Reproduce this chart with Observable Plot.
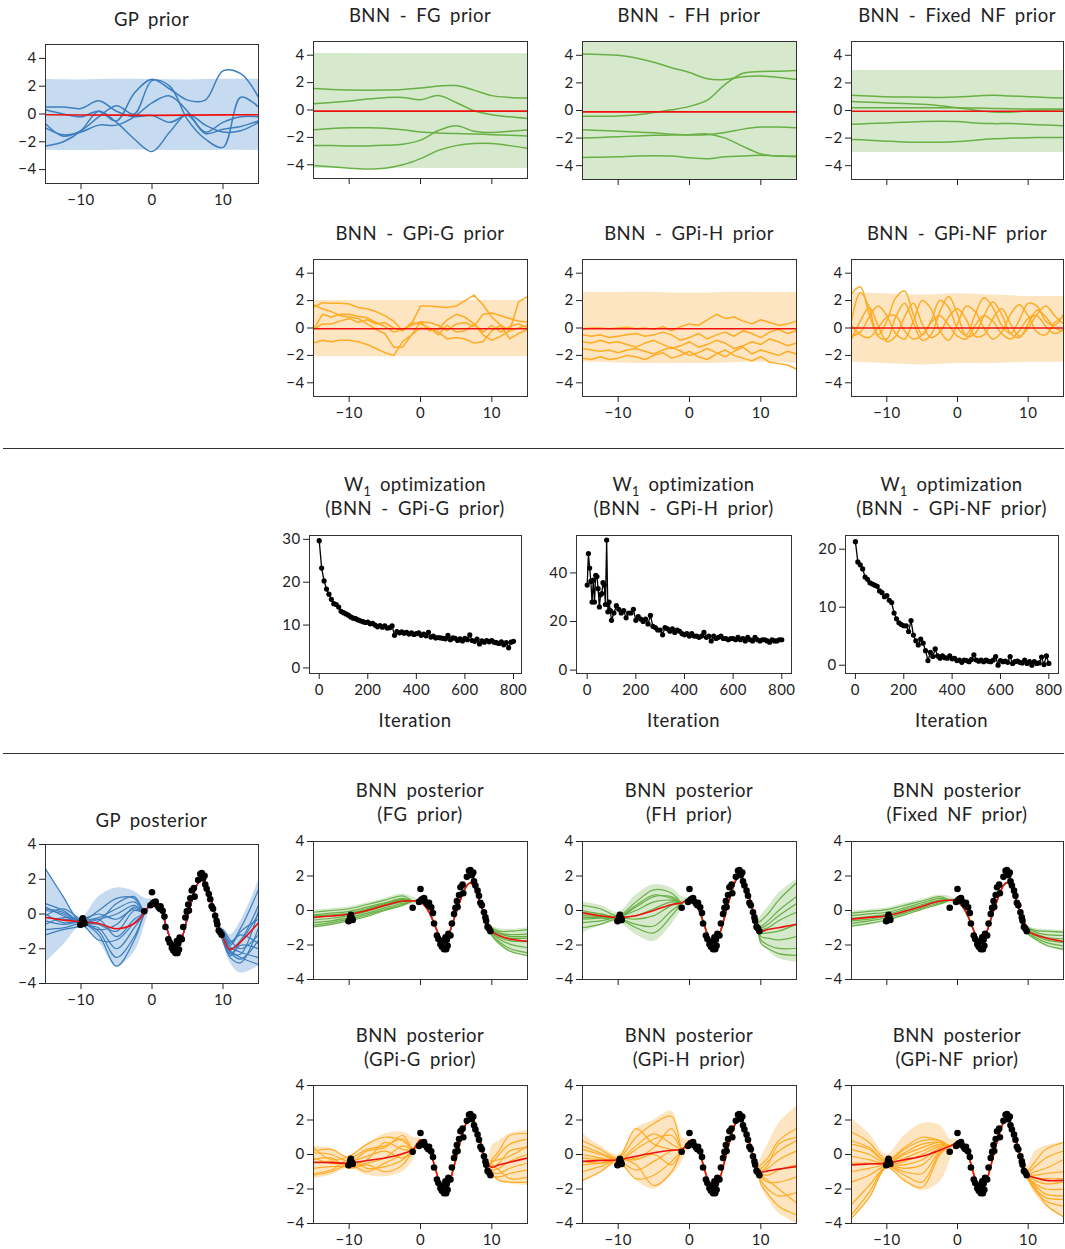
<!DOCTYPE html>
<html><head><meta charset="utf-8">
<script src="https://cdn.jsdelivr.net/npm/d3@7"></script>
<script src="https://cdn.jsdelivr.net/npm/@observablehq/plot@0.6"></script>
<style>
body{margin:0;background:#fff;}
#root{position:relative;width:1065px;height:1249px;background:#fff;overflow:hidden;font-family:Lato,'DejaVu Sans',sans-serif;color:#222;}
.t{position:absolute;width:340px;text-align:center;font-size:18.5px;letter-spacing:0.45px;word-spacing:4px;white-space:nowrap;}
.t .sb{font-size:12.5px;position:relative;top:5px;line-height:0;letter-spacing:0;}
.sep{position:absolute;left:3px;width:1061px;height:0;border-top:1px solid #333;}
</style></head><body><div id="root"></div><script>
// ---------------- DATA ----------------
const xPrior = [-15,-12.5,-10,-7.5,-5,-2.5,0,2.5,5,7.5,10,12.5,15];
const xJag = [-15,-13.75,-12.5,-11.25,-10,-8.75,-7.5,-6.25,-5,-3.75,-2.5,-1.25,0,1.25,2.5,3.75,5,6.25,7.5,8.75,10,11.25,12.5,13.75,15];
const xBand = [-15,-10,-5,0,5,10,15];
const xTicks = [-10,0,10];
const yTicksPrior = [-4,-2,0,2,4];

// GP prior
const gpPriorSamples = [
  [0.5,0.5,0.4,0.95,0.2,-0.2,-0.1,-0.6,-0.1,-1.4,-1.1,-0.9,-0.5],
  [-0.7,-1.6,-1.2,-0.2,0.6,0.0,2.4,2.0,-0.4,-1.8,-2.4,1.2,0.5],
  [-2.3,-2.0,-1.2,0.2,-0.6,-1.8,-2.7,-1.3,0.0,-0.8,-1.3,-1.2,-0.6],
  [0.3,0.0,-0.2,0.2,-0.5,1.5,2.5,1.8,1.0,1.0,3.1,2.9,1.2],
  [-1.0,-1.5,-1.3,-0.8,-0.8,-0.2,0.8,1.3,0.2,-1.3,-0.6,-0.2,-0.2]
];
const gpPriorUp = [2.48,2.45,2.5,2.48,2.45,2.5,2.5];
const gpPriorLo = [-2.6,-2.62,-2.6,-2.6,-2.62,-2.6,-2.62];
const gpPriorMean = [-0.05,-0.07,-0.08,-0.1,-0.08,-0.06,-0.05];

// BNN - FG prior
const fgPriorSamples = [
  [1.57,1.5,1.46,1.45,1.46,1.5,1.6,1.75,1.78,1.45,1.05,0.92,0.88],
  [0.45,0.55,0.65,0.8,0.9,0.92,0.75,1.05,0.55,-0.05,-0.35,-0.5,-0.62],
  [-1.45,-1.35,-1.3,-1.3,-1.33,-1.45,-1.6,-1.68,-1.72,-1.75,-1.8,-1.85,-1.9],
  [-2.6,-2.6,-2.62,-2.62,-2.58,-2.5,-2.2,-1.5,-1.15,-1.55,-1.65,-1.55,-1.45],
  [-4.05,-4.15,-4.25,-4.3,-4.25,-4.0,-3.55,-2.95,-2.6,-2.45,-2.45,-2.6,-2.8]
];
const fgPriorUp = [4.12,4.12,4.1,4.1,4.1,4.1,4.1];
const fgPriorLo = [-4.27,-4.27,-4.27,-4.27,-4.27,-4.27,-4.27];
const fgPriorMean = [-0.08,-0.08,-0.08,-0.08,-0.08,-0.08,-0.08];

// BNN - FH prior
const fhPriorSamples = [
  [4.1,4.05,4.0,3.8,3.5,3.1,2.75,2.3,2.25,2.45,2.5,2.4,2.25],
  [-0.42,-0.42,-0.4,-0.32,-0.15,0.05,0.3,0.75,1.9,2.7,2.82,2.85,2.9],
  [-1.4,-1.45,-1.5,-1.55,-1.62,-1.72,-1.78,-1.75,-1.6,-1.35,-1.2,-1.2,-1.25],
  [-2.0,-1.95,-1.9,-1.85,-1.8,-1.78,-1.75,-1.7,-2.0,-2.6,-3.15,-3.3,-3.3],
  [-3.4,-3.38,-3.35,-3.3,-3.28,-3.3,-3.42,-3.5,-3.35,-3.3,-3.25,-3.3,-3.35]
];
const fhPriorUp = [5.5,5.5,5.5,5.5,5.5,5.5,5.5];
const fhPriorLo = [-5.5,-5.5,-5.5,-5.5,-5.5,-5.5,-5.5];
const fhPriorMean = [-0.1,-0.1,-0.1,-0.1,-0.1,-0.1,-0.1];

// BNN - Fixed NF prior
const fnfPriorSamples = [
  [1.1,1.05,1.0,0.98,0.96,0.95,0.98,1.05,1.1,1.05,1.0,0.95,0.9],
  [0.65,0.6,0.55,0.5,0.45,0.35,0.2,0.02,-0.1,-0.12,-0.02,0.03,0.05],
  [0.2,0.2,0.2,0.2,0.2,0.2,0.2,0.18,0.15,0.12,0.1,0.1,0.1],
  [-1.0,-0.95,-0.9,-0.85,-0.8,-0.78,-0.8,-0.9,-0.95,-0.95,-1.0,-1.05,-1.1],
  [-2.1,-2.15,-2.22,-2.28,-2.3,-2.3,-2.25,-2.15,-2.05,-2.0,-1.97,-1.95,-1.95]
];
const fnfPriorUp = [2.9,2.9,2.9,2.9,2.9,2.9,2.9];
const fnfPriorLo = [-3.05,-3.05,-3.05,-3.05,-3.05,-3.05,-3.05];
const fnfPriorMean = [-0.05,-0.05,-0.05,-0.05,-0.05,-0.05,-0.05];

// BNN - GPi-G prior
const gpigPriorSamples = [
  [1.5,1.85,1.8,1.8,1.75,1.5,1.4,1.2,0.9,0.5,-0.2,0.3,1.6,1.6,1.55,1.5,1.6,2.0,2.4,1.7,0.8,0.2,-0.2,1.9,2.3],
  [-0.1,1.0,0.8,1.0,1.0,0.85,0.75,0.4,0.1,-0.3,-0.1,0.2,0.45,-0.2,-0.1,0.6,1.0,0.8,0.3,-0.5,-0.9,-0.6,-0.2,0.0,0.2],
  [1.7,1.4,1.2,0.9,0.8,0.7,0.3,-0.1,-0.4,-1.4,-1.4,-0.5,0.45,0.4,0.2,-0.2,0.3,0.4,0.1,1.0,1.1,0.9,0.7,0.5,0.45],
  [-0.1,0.3,0.3,0.5,0.7,0.4,0.6,0.3,0.4,0.0,-0.2,0.4,0.3,0.0,-0.5,0.2,-0.3,-0.2,0.3,-0.3,0.2,-0.3,0.1,0.3,0.0],
  [-1.1,-0.9,-1.0,-0.9,-0.9,-1.0,-1.2,-1.5,-1.8,-2.0,-1.0,-0.5,0.0,-0.1,-0.3,-0.8,-0.7,-0.8,-1.1,-1.0,-0.2,0.2,-0.8,-0.4,-0.1]
];
const gpigPriorUp = [2.0,2.0,2.0,2.0,2.0,2.0,2.0];
const gpigPriorLo = [-2.1,-2.1,-2.1,-2.1,-2.1,-2.1,-2.1];
const gpigPriorMean = [-0.05,-0.05,-0.05,-0.05,-0.05,-0.05,-0.05];

// BNN - GPi-H prior
const gpihPriorSamples = [
  [-0.05,0.0,0.0,-0.05,0.0,0.05,-0.05,0.0,-0.1,0.1,-0.2,0.1,0.3,0.2,0.6,1.0,0.7,0.8,0.5,0.3,0.6,0.4,0.2,0.3,0.5],
  [-0.5,-0.6,-0.5,-0.7,-0.6,-0.5,-0.4,-0.6,-0.5,-0.3,-0.5,-0.9,-0.7,-0.4,-0.8,-0.5,-0.3,-0.6,-0.2,-0.4,-0.7,-0.3,-0.1,-0.4,-0.2],
  [-1.0,-1.1,-0.9,-1.1,-1.0,-1.2,-1.4,-1.1,-0.9,-1.2,-1.5,-1.3,-1.0,-1.4,-1.2,-0.9,-1.1,-1.5,-1.3,-1.0,-1.2,-0.8,-1.0,-1.3,-1.1],
  [-1.5,-1.6,-1.7,-1.6,-1.8,-1.6,-1.5,-1.7,-1.9,-1.6,-1.4,-1.7,-2.0,-1.8,-1.5,-1.8,-2.1,-1.7,-1.4,-1.9,-1.6,-1.8,-2.0,-1.7,-1.9],
  [-2.2,-2.3,-2.1,-2.3,-2.2,-2.0,-2.1,-2.3,-2.0,-1.8,-2.2,-2.0,-1.7,-2.1,-2.3,-1.9,-1.6,-2.0,-2.2,-2.4,-2.1,-2.5,-2.6,-2.7,-3.0]
];
const gpihPriorUp = [2.6,2.6,2.6,2.55,2.6,2.6,2.6];
const gpihPriorLo = [-2.5,-2.55,-2.6,-2.6,-2.55,-2.5,-2.6];
const gpihPriorMean = [-0.05,-0.05,-0.05,-0.05,-0.05,-0.05,-0.05];

// BNN - GPi-NF prior
const gpinfPriorSamples = [
  [2.5,3.0,1.0,-0.5,0.5,2.2,2.7,1.0,-0.5,0.5,2.0,1.5,0.0,-0.5,1.0,2.2,1.5,0.2,-0.4,0.6,1.8,1.6,0.5,0.2,1.0],
  [0.5,2.6,1.5,-0.6,-0.8,0.8,1.8,0.4,-0.9,-0.5,1.2,2.3,1.0,-0.6,-0.4,0.9,1.9,1.0,-0.4,-0.7,0.3,1.3,0.8,0.0,-0.2],
  [-0.6,-0.3,0.8,1.6,0.9,-0.4,-0.8,0.5,2.0,1.4,-0.2,-0.9,0.3,1.6,1.2,0.0,-0.8,-0.3,1.0,1.7,0.9,-0.3,-0.5,0.4,0.8],
  [-0.8,0.5,1.5,0.2,-1.0,-0.6,0.8,1.8,0.3,-0.7,-0.3,0.8,1.4,0.6,-0.6,-0.5,0.7,1.4,0.3,-0.6,0.0,1.0,1.6,0.9,0.3],
  [0.2,-0.5,-0.7,0.0,0.8,0.9,-0.2,-0.8,-0.5,0.4,0.9,0.2,-0.6,-0.8,0.2,0.9,0.5,-0.4,-0.8,-0.2,0.7,0.9,0.1,-0.4,-0.1]
];
const gpinfPriorUp = [2.6,2.5,2.4,2.5,2.4,2.3,2.3];
const gpinfPriorLo = [-2.5,-2.6,-2.7,-2.6,-2.6,-2.5,-2.5];
const gpinfPriorMean = [0.0,0.0,0.0,0.0,0.0,0.0,0.0];

// W1 optimization
const w1Ticks = [0,200,400,600,800];
const w1GValues = [29.7,23.3,20.3,18.4,17.2,16.0,15.0,14.8,14.2,13.2,
 12.9,12.6,12.3,11.9,11.6,11.5,11.2,11.0,10.8,10.6,
 10.7,10.3,10.4,10.0,9.6,9.9,9.5,9.8,9.3,9.4,
 9.8,7.6,8.5,8.2,8.4,8.1,8.3,7.9,8.2,7.8,
 8.0,8.2,7.6,7.9,7.5,8.3,7.2,7.4,7.0,7.1,
 7.0,6.9,6.8,7.6,6.6,7.0,6.9,6.4,6.8,6.3,
 6.9,6.6,7.7,6.4,6.2,6.7,5.6,6.3,6.0,6.4,
 6.1,6.4,6.0,5.9,5.7,6.1,5.4,5.9,4.7,6.0,
 6.2];
const w1HEarlyIter = [0,5,10,15,20,25,30,35,40,45,50,55,60,65,70,75,80,85,90,95];
const w1HEarly = [35,48,42,36.5,28,37,28,39,38.5,33.5,26,31,31.5,36,35,27,53.5,24,28,24.5];
const w1HValues = [20.5,23.5,26.5,25,23.5,24.5,21.5,23.5,23.5,25,
 20.5,22,21,20,21,19,22.5,18,17.5,16.5,
 16.5,14.5,17.5,17,16,17,15.5,16.5,16,15,
 14.5,15,14,15,14,14,13.5,14,15.5,13.5,
 14,12,14,13,13.5,14,13,13,12.5,13,
 13,12.5,13.5,12.5,13,12,13.5,12.5,12,13.5,
 12.5,12,12.5,12.5,12,11.5,12.5,12,12,12.5,
 12.5];
const w1NFValues = [21.3,17.8,17.3,16.6,15.2,14.8,14.2,14.0,13.8,13.6,
 12.8,12.5,11.8,12.0,11.2,10.8,9.0,8.0,7.3,7.0,
 6.8,6.8,5.8,7.7,5.2,4.2,3.5,4.5,3.8,2.5,
 0.8,2.2,1.5,2.8,1.6,1.2,1.6,1.3,1.2,1.6,
 1.1,1.2,0.8,0.9,0.5,0.9,0.8,0.6,1.0,1.8,
 0.9,0.7,0.9,0.6,0.9,0.7,0.6,0.9,1.5,0.0,
 0.8,0.6,0.7,0.5,1.5,0.3,0.6,0.7,0.5,0.4,
 0.9,0.3,0.6,0.0,0.6,0.3,0.4,1.4,0.1,1.6,
 0.3];

// Observations (shared by all posterior panels)
const obsX = [-10.1,-10.0,-9.85,-9.75,-9.6,-9.5,-1.1,-0.2,0.0,0.1,0.25,0.5,0.6,0.9,1.1,1.2,1.5,1.75,1.9,2.3,2.5,2.8,3.0,3.1,3.3,3.5,3.6,3.7,3.8,3.9,4.2,4.4,4.7,4.9,5.1,5.2,5.4,5.6,5.9,6.0,6.5,6.8,7.0,7.2,7.4,7.5,7.7,8.0,8.2,8.4,8.6,8.9,9.1,9.2,9.4,9.6,9.8];
const obsY = [-0.62,-0.6,-0.36,-0.25,-0.45,-0.55,0.16,0.5,1.25,0.6,0.66,0.72,0.55,0.4,0.3,0.45,0.18,-0.15,-0.75,-1.45,-1.65,-1.95,-2.1,-1.8,-2.25,-1.55,-2.25,-1.7,-2.05,-1.35,-1.45,-0.75,-0.2,0.15,0.55,0.2,0.9,1.35,1.5,1.0,1.95,2.3,2.35,2.05,2.2,1.7,1.45,1.15,0.85,0.45,0.3,-0.1,-0.4,-0.6,-0.95,-1.05,-1.2];

// Posterior knots
const xPostL = [-15,-12.5,-10,-7.5,-5,-2.5];
const xPostM = [-1,-0.5,0,0.5,1,1.5,2,2.5,3,3.5,4,4.5,5,5.5,6,6.5,7,7.5,8,8.5,9,9.5];
const xPostR = [10,11,12.5,15];
const xBandL = [-15,-12.5,-10,-7.5,-5,-2.5,-1,0];
const xBandR = [9.5,10,11,12.5,15];
const yTicksPost = [-4,-2,0,2,4];

// GP posterior: samples are [6 left values | 4 right values]
const gpPostSamples = [
  [2.6,1.0,-0.5,-0.3,0.0,0.5, -1.0,-1.7,-0.8,1.4],
  [0.6,0.2,-0.4,0.2,0.9,0.9, -1.2,-2.0,-1.5,0.5],
  [0.4,-0.1,-0.5,-0.6,-1.0,0.2, -1.3,-2.2,-2.3,0.2],
  [0.2,0.0,-0.6,-0.8,-2.0,-0.8, -1.1,-1.8,-1.0,-0.3],
  [0.0,-0.5,-0.4,-0.2,0.3,0.7, -1.5,-2.5,-2.8,-0.8],
  [-0.2,-0.3,-0.45,-1.0,-2.5,-1.3, -0.9,-1.5,-2.0,-1.2],
  [-0.4,-0.6,-0.5,-1.2,-3.0,-1.5, -1.4,-2.2,-2.6,-1.5],
  [-0.6,-0.2,-0.3,0.0,-0.3,0.3, -1.6,-2.4,-1.8,-2.0],
  [-0.9,-0.8,-0.6,-1.5,-1.5,-0.5, -1.2,-1.9,-2.2,-2.5],
  [-1.2,-0.9,-0.7,-0.4,0.6,1.0, -1.3,-2.1,-2.5,-2.9],
  [-0.1,0.3,-0.35,-0.9,-0.6,0.4, -1.0,-1.6,-1.2,-1.7],
  [0.3,0.1,-0.5,-0.3,-1.3,-0.3, -1.5,-2.3,-1.6,0.0]
];
const gpPostMid = [0.1,0.45,0.77,0.75,0.5,0.0,-0.7,-1.35,-1.8,-1.95,-1.65,-1.0,-0.2,0.6,1.3,1.8,2.0,1.85,1.3,0.6,-0.2,-0.85];
const gpPostMeanL = [-0.2,-0.35,-0.45,-0.55,-0.85,-0.55];
const gpPostMeanR = [-1.35,-2.05,-1.6,-0.5];
const gpPostBandLUp = [2.6,1.0,-0.2,1.0,1.5,1.3,0.9,0.85];
const gpPostBandLLo = [-2.8,-1.8,-0.75,-1.6,-3.0,-2.2,-0.6,0.65];
const gpPostBandRUp = [-0.75,-0.8,-1.2,-0.4,1.9];
const gpPostBandRLo = [-0.95,-1.6,-2.8,-3.4,-3.0];

// BNN posterior (FG prior)
const fgPostSamples = [
  [-0.1,0.0,0.1,0.35,0.6,0.85, -1.0,-1.2,-1.2,-1.1],
  [-0.25,-0.15,-0.05,0.2,0.45,0.7, -1.1,-1.3,-1.4,-1.35],
  [-0.4,-0.3,-0.2,0.05,0.35,0.6, -1.2,-1.45,-1.6,-1.6],
  [-0.55,-0.45,-0.3,-0.05,0.25,0.5, -1.25,-1.55,-1.75,-1.8],
  [-0.7,-0.6,-0.4,-0.15,0.15,0.42, -1.3,-1.65,-1.95,-2.15],
  [-0.85,-0.7,-0.5,-0.25,0.05,0.35, -1.4,-1.8,-2.2,-2.45],
  [-0.95,-0.8,-0.6,-0.35,0.0,0.3, -1.45,-1.9,-2.35,-2.6],
  [-0.3,-0.25,-0.15,0.1,0.4,0.65, -1.15,-1.35,-1.5,-1.5]
];
const fgPostMid = [0.55,0.57,0.5,0.32,0.05,-0.35,-0.85,-1.35,-1.68,-1.72,-1.35,-0.75,-0.1,0.5,1.05,1.45,1.6,1.4,0.9,0.3,-0.3,-0.8];
const fgPostMeanL = [-0.4,-0.32,-0.22,0.0,0.3,0.55];
const fgPostMeanR = [-1.2,-1.45,-1.65,-1.78];
const fgPostBandLUp = [0.0,0.1,0.2,0.45,0.7,0.95,0.75,0.6];
const fgPostBandLLo = [-1.0,-0.85,-0.65,-0.4,-0.05,0.25,0.35,0.4];
const fgPostBandRUp = [-0.65,-0.9,-1.05,-1.1,-1.0];
const fgPostBandRLo = [-0.95,-1.5,-2.0,-2.4,-2.7];

// BNN posterior (FH prior)
const fhPostSamples = [
  [0.3,0.1,-0.3,0.5,1.2,1.0, -0.6,-0.2,0.6,1.6],
  [-0.1,-0.2,-0.4,0.2,0.8,0.8, -0.9,-0.6,0.0,0.8],
  [-0.4,-0.4,-0.4,-0.3,0.1,0.5, -1.1,-1.0,-0.6,-0.1],
  [-0.7,-0.6,-0.45,-0.8,-0.9,0.0, -1.3,-1.3,-1.2,-0.8],
  [0.0,-0.2,-0.35,0.0,0.5,0.6, -1.5,-1.6,-1.7,-1.5],
  [-1.0,-0.8,-0.5,-1.0,-1.3,-0.3, -1.7,-2.0,-2.2,-2.2],
  [-0.3,-0.35,-0.4,-0.5,-0.3,0.3, -1.9,-2.2,-2.5,-2.6],
  [-0.5,-0.45,-0.4,0.3,0.9,0.7, -1.0,-0.8,-0.3,0.4]
];
const fhPostMid = [0.45,0.6,0.65,0.55,0.3,-0.15,-0.75,-1.35,-1.8,-1.9,-1.6,-1.0,-0.25,0.5,1.2,1.75,1.95,1.8,1.3,0.6,-0.15,-0.75];
const fhPostMeanL = [-0.15,-0.3,-0.4,-0.3,0.0,0.35];
const fhPostMeanR = [-1.2,-1.1,-1.0,-0.8];
const fhPostBandLUp = [0.5,0.3,-0.1,0.9,1.5,1.3,0.8,0.75];
const fhPostBandLLo = [-1.3,-0.9,-0.7,-1.4,-1.8,-0.8,0.1,0.55];
const fhPostBandRUp = [-0.6,-0.3,0.2,1.0,1.8];
const fhPostBandRLo = [-0.9,-1.8,-2.3,-2.8,-3.0];

// BNN posterior (Fixed NF prior)
const fnfPostSamples = [
  [-0.15,-0.05,0.05,0.3,0.55,0.8, -1.0,-1.15,-1.2,-1.25],
  [-0.3,-0.2,-0.1,0.15,0.45,0.7, -1.05,-1.25,-1.4,-1.45],
  [-0.45,-0.35,-0.22,0.05,0.35,0.6, -1.15,-1.35,-1.55,-1.65],
  [-0.6,-0.5,-0.32,-0.05,0.25,0.52, -1.2,-1.45,-1.7,-1.85],
  [-0.75,-0.6,-0.42,-0.15,0.15,0.45, -1.3,-1.55,-1.85,-2.05],
  [-0.9,-0.75,-0.55,-0.25,0.08,0.38, -1.35,-1.65,-2.0,-2.25]
];
const fnfPostMid = [0.6,0.6,0.52,0.33,0.05,-0.35,-0.85,-1.35,-1.7,-1.75,-1.4,-0.8,-0.15,0.45,1.0,1.45,1.62,1.45,0.95,0.35,-0.25,-0.75];
const fnfPostMeanL = [-0.5,-0.4,-0.3,-0.05,0.25,0.55];
const fnfPostMeanR = [-1.2,-1.4,-1.6,-1.8];
const fnfPostBandLUp = [-0.05,0.05,0.15,0.4,0.65,0.9,0.8,0.6];
const fnfPostBandLLo = [-1.0,-0.85,-0.65,-0.35,0.0,0.3,0.4,0.45];
const fnfPostBandRUp = [-0.6,-0.9,-1.05,-1.1,-1.15];
const fnfPostBandRLo = [-0.9,-1.45,-1.75,-2.1,-2.35];

// BNN posterior (GPi-G prior)
const gpigPostSamples = [
  [0.4,-0.3,-0.1,0.6,1.0,0.8, -0.3,0.2,1.1,1.2],
  [-0.2,-0.5,-0.5,0.2,0.4,1.1, -0.5,0.0,0.6,0.9],
  [-0.5,-0.4,-0.6,-0.3,0.7,0.3, -0.7,-0.5,0.2,0.4],
  [-0.8,-0.7,-0.7,-0.5,-0.2,0.5, -0.9,-0.8,-0.4,0.0],
  [-1.1,-0.9,-0.3,-0.8,-0.7,-0.3, -1.0,-1.1,-0.8,-0.5],
  [0.1,0.0,-0.4,-0.1,0.2,-0.2, -1.2,-1.3,-1.1,-0.9],
  [-0.3,-0.2,-0.8,-0.6,-1.0,-0.6, -0.6,-0.9,-1.4,-1.3],
  [-1.2,-1.0,-0.6,-1.0,-0.5,0.0, -1.1,-1.5,-1.6,-1.6],
  [0.2,0.3,-0.2,0.3,0.5,0.9, -0.4,-0.3,-0.1,0.5]
];
const gpigPostMid = [0.3,0.6,0.85,0.75,0.45,0.0,-0.7,-1.4,-1.85,-2.0,-1.7,-1.0,-0.2,0.6,1.35,1.9,2.2,1.95,1.35,0.6,-0.15,-0.6];
const gpigPostMeanL = [-0.45,-0.47,-0.5,-0.35,-0.2,0.05];
const gpigPostMeanR = [-0.75,-0.6,-0.45,-0.2];
const gpigPostBandLUp = [0.5,0.35,-0.1,0.6,1.2,1.3,1.0,0.95];
const gpigPostBandLLo = [-1.4,-1.2,-0.8,-1.2,-1.3,-1.0,-0.3,0.75];
const gpigPostBandRUp = [-0.45,0.5,0.8,1.2,1.4];
const gpigPostBandRLo = [-0.75,-1.3,-1.5,-1.7,-1.8];

// BNN posterior (GPi-H prior)
const gpihPostSamples = [
  [0.8,0.3,-0.2,1.0,1.8,2.2, -0.6,-0.2,0.8,1.5],
  [0.3,0.0,-0.3,0.5,1.2,0.6, -0.8,-0.4,0.2,0.8],
  [-0.2,-0.3,-0.3,-0.2,0.4,1.5, -0.9,-0.8,-0.3,0.2],
  [-0.6,-0.5,-0.35,-0.9,-0.4,0.2, -1.1,-1.2,-0.9,-0.6],
  [-1.0,-0.7,-0.4,-1.4,-1.2,-0.4, -1.3,-1.6,-1.6,-1.3],
  [-1.5,-1.0,-0.3,-0.6,-1.8,-1.0, -1.5,-2.0,-2.4,-2.2],
  [0.0,-0.2,-0.4,0.3,0.9,1.1, -1.7,-2.3,-3.0,-3.5],
  [-0.4,-0.5,-0.3,-0.3,0.0,-0.6, -1.2,-1.5,-2.0,-2.8],
  [0.5,0.1,-0.2,1.5,0.6,0.3, -1.0,-0.6,0.6,1.0]
];
const gpihPostMid = [0.3,0.55,0.8,0.75,0.45,0.0,-0.7,-1.4,-1.85,-2.0,-1.7,-1.05,-0.25,0.55,1.3,1.85,2.1,1.9,1.3,0.55,-0.2,-0.75];
const gpihPostMeanL = [-0.4,-0.35,-0.3,-0.1,0.1,0.25];
const gpihPostMeanR = [-1.0,-0.95,-0.85,-0.7];
const gpihPostBandLUp = [1.2,0.5,0.0,1.5,2.0,2.5,1.0,0.9];
const gpihPostBandLLo = [-1.6,-1.1,-0.6,-1.5,-2.0,-1.2,-0.4,0.7];
const gpihPostBandRUp = [-0.6,-0.2,0.6,1.8,2.8];
const gpihPostBandRLo = [-0.9,-1.8,-2.6,-3.4,-4.0];

// BNN posterior (GPi-NF prior)
const gpinfPostSamples = [
  [1.3,0.7,-0.3,0.4,1.0,0.8, -0.9,-0.4,0.3,0.7],
  [0.8,0.4,-0.4,0.3,0.8,0.8, -1.0,-0.7,-0.2,0.2],
  [0.6,0.3,-0.45,0.1,0.6,0.7, -1.1,-1.0,-0.8,-0.3],
  [0.3,0.0,-0.5,0.0,0.4,0.7, -1.15,-1.2,-1.1,-1.0],
  [-0.1,-0.3,-0.55,-0.2,0.2,0.6, -1.2,-1.35,-1.4,-1.4],
  [-0.5,-0.5,-0.6,-0.4,0.0,0.5, -1.25,-1.5,-1.7,-1.6],
  [-1.0,-0.8,-0.6,-0.6,-0.3,0.4, -1.3,-1.7,-2.0,-2.0],
  [-1.6,-1.2,-0.65,-0.8,-0.6,0.3, -1.35,-1.8,-2.3,-2.4],
  [-2.9,-1.8,-0.7,-1.0,-1.1,0.2, -1.4,-2.0,-2.5,-2.6],
  [-3.5,-2.2,-0.7,-1.2,-1.6,0.1, -1.45,-2.1,-2.7,-3.0],
  [-3.7,-2.5,-0.75,-1.5,-1.9,0.0, -1.3,-1.9,-2.9,-3.6]
];
const gpinfPostMid = [0.5,0.6,0.75,0.7,0.45,0.0,-0.7,-1.4,-1.85,-1.95,-1.65,-1.0,-0.2,0.6,1.3,1.85,2.05,1.85,1.3,0.55,-0.25,-0.85];
const gpinfPostMeanL = [-0.6,-0.55,-0.5,-0.3,-0.1,0.25];
const gpinfPostMeanR = [-1.2,-1.35,-1.5,-1.5];
const gpinfPostBandLUp = [2.1,1.2,0.0,1.1,1.8,1.7,0.9,0.85];
const gpinfPostBandLLo = [-3.7,-2.6,-0.8,-1.6,-2.1,-1.6,-0.3,0.65];
const gpinfPostBandRUp = [-0.7,-0.6,0.2,0.5,0.7];
const gpinfPostBandRLo = [-1.0,-1.5,-2.3,-3.0,-3.7];

// ---------------- STYLE ----------------
const BLUE = "#3d7ebf", BLUE_BAND = "#c6dbef";
const GREEN = "#68b044", GREEN_BAND = "#d6e9cc";
const ORANGE = "#ffab24", ORANGE_BAND = "#fee5c1";
const RED = "#f01010";
const FONT = "Lato, 'DejaVu Sans', sans-serif";

// ---------------- HELPERS ----------------
const root = document.getElementById("root");
const fmt = d => d < 0 ? "\u2212" + Math.abs(d) : String(d);

function title(lines, cx, cy, lh = 24.5) {
  const d = document.createElement("div");
  d.className = "t";
  d.style.left = (cx - 170) + "px";
  d.style.top = (cy - lh / 2) + "px";
  d.style.lineHeight = lh + "px";
  d.innerHTML = lines.join("<br>");
  root.appendChild(d);
}
function sep(y) {
  const d = document.createElement("div");
  d.className = "sep"; d.style.top = y + "px"; root.appendChild(d);
}
function panel(f, o) {
  const ml = 46, mr = 4, mt = 4, mb = 30;
  const W = f.r - f.l, H = f.b - f.t;
  const svg = Plot.plot({
    width: W + ml + mr, height: H + mt + mb,
    marginLeft: ml, marginRight: mr, marginTop: mt, marginBottom: mb,
    style: {fontFamily: FONT, fontSize: "15px", letterSpacing: "0.4px", color: "#222", background: "none", overflow: "visible"},
    x: {domain: o.xd},
    y: {domain: o.yd},
    marks: [
      ...o.marks,
      Plot.frame({stroke: "#333", strokeWidth: 1}),
      Plot.axisX({ticks: o.xt, tickSize: 6, tickPadding: 5, label: null, tickFormat: o.xlab ? fmt : () => ""}),
      Plot.axisY({ticks: o.yt, tickSize: 6, tickPadding: 3, label: null, tickFormat: fmt})
    ]
  });
  svg.style.position = "absolute";
  svg.style.left = (f.l - ml) + "px";
  svg.style.top = (f.t - mt) + "px";
  root.appendChild(svg);
}
const toCurves = (xs, rows) => rows.flatMap((ys, i) => ys.map((y, j) => ({id: i, x: xs[j], y})));
const toBand = (xs, up, lo) => xs.map((x, i) => ({x, hi: up[i], lo: lo[i]}));
const toLine = (xs, ys) => ys.map((y, j) => ({x: xs[j], y}));

function priorMarks(xs, samples, up, lo, mean, col, band, curve) {
  return [
    Plot.areaY(toBand(xBand, up, lo), {x: "x", y1: "lo", y2: "hi", fill: band, curve: "catmull-rom", clip: true}),
    Plot.line(toCurves(xs, samples), {x: "x", y: "y", z: "id", stroke: col, strokeWidth: 1.5, curve, clip: true}),
    Plot.line(toLine(xBand, mean), {x: "x", y: "y", stroke: RED, strokeWidth: 1.6, clip: true})
  ];
}
function postMarks(samples, mid, meanL, meanR, bLU, bLL, bRU, bRL, col, band, sw = 1.2) {
  const xs = [...xPostL, ...xPostM, ...xPostR];
  const rows = samples.map(s => [...s.slice(0, 6), ...mid, ...s.slice(6)]);
  const mean = [...meanL, ...mid, ...meanR];
  const obs = obsX.map((x, i) => ({x, y: obsY[i]}));
  return [
    Plot.areaY(toBand(xBandL, bLU, bLL), {x: "x", y1: "lo", y2: "hi", fill: band, curve: "catmull-rom", clip: true}),
    Plot.areaY(toBand(xBandR, bRU, bRL), {x: "x", y1: "lo", y2: "hi", fill: band, curve: "catmull-rom", clip: true}),
    Plot.line(toCurves(xs, rows), {x: "x", y: "y", z: "id", stroke: col, strokeWidth: sw, curve: "catmull-rom", clip: true}),
    Plot.line(toLine(xs, mean), {x: "x", y: "y", stroke: RED, strokeWidth: 1.6, curve: "catmull-rom", clip: true}),
    Plot.dot(obs, {x: "x", y: "y", r: 3.3, fill: "black", stroke: "none"})
  ];
}
function w1Marks(iters, vals) {
  const d = vals.map((v, i) => ({x: iters[i], y: v}));
  return [
    Plot.line(d, {x: "x", y: "y", stroke: "black", strokeWidth: 1.3}),
    Plot.dot(d, {x: "x", y: "y", r: 2.6, fill: "black", stroke: "none"})
  ];
}
const W1 = "W<span class='sb'>1</span> optimization";

// ---------------- LAYOUT ----------------
const XD = [-15, 15];
// Row 1
panel({l: 45, r: 258, t: 44, b: 183}, {xd: XD, yd: [-5, 5], xt: xTicks, yt: yTicksPrior, xlab: true,
  marks: priorMarks(xPrior, gpPriorSamples, gpPriorUp, gpPriorLo, gpPriorMean, BLUE, BLUE_BAND, "catmull-rom")});
title(["GP prior"], 151.5, 19);
panel({l: 313, r: 527, t: 41, b: 178}, {xd: XD, yd: [-5, 5], xt: xTicks, yt: yTicksPrior, xlab: false,
  marks: priorMarks(xPrior, fgPriorSamples, fgPriorUp, fgPriorLo, fgPriorMean, GREEN, GREEN_BAND, "catmull-rom")});
title(["BNN - FG prior"], 420, 15);
panel({l: 582, r: 796, t: 41, b: 179}, {xd: XD, yd: [-5, 5], xt: xTicks, yt: yTicksPrior, xlab: false,
  marks: priorMarks(xPrior, fhPriorSamples, fhPriorUp, fhPriorLo, fhPriorMean, GREEN, GREEN_BAND, "catmull-rom")});
title(["BNN - FH prior"], 689, 15);
panel({l: 851, r: 1063, t: 41, b: 179}, {xd: XD, yd: [-5, 5], xt: xTicks, yt: yTicksPrior, xlab: false,
  marks: priorMarks(xPrior, fnfPriorSamples, fnfPriorUp, fnfPriorLo, fnfPriorMean, GREEN, GREEN_BAND, "catmull-rom")});
title(["BNN - Fixed NF prior"], 957, 15);

// Row 2
panel({l: 313, r: 527, t: 259, b: 396}, {xd: XD, yd: [-5, 5], xt: xTicks, yt: yTicksPrior, xlab: true,
  marks: priorMarks(xJag, gpigPriorSamples, gpigPriorUp, gpigPriorLo, gpigPriorMean, ORANGE, ORANGE_BAND, "linear")});
title(["BNN - GPi-G prior"], 420, 233);
panel({l: 582, r: 796, t: 259, b: 396}, {xd: XD, yd: [-5, 5], xt: xTicks, yt: yTicksPrior, xlab: true,
  marks: priorMarks(xJag, gpihPriorSamples, gpihPriorUp, gpihPriorLo, gpihPriorMean, ORANGE, ORANGE_BAND, "linear")});
title(["BNN - GPi-H prior"], 689, 233);
panel({l: 851, r: 1063, t: 259, b: 396}, {xd: XD, yd: [-5, 5], xt: xTicks, yt: yTicksPrior, xlab: true,
  marks: priorMarks(xJag, gpinfPriorSamples, gpinfPriorUp, gpinfPriorLo, gpinfPriorMean, ORANGE, ORANGE_BAND, "catmull-rom")});
title(["BNN - GPi-NF prior"], 957, 233);

sep(448);

// Row 3: W1 optimization
const iter10 = d3.range(0, 801, 10);
const iterH = [...w1HEarlyIter, ...d3.range(100, 801, 10)];
panel({l: 309, r: 521, t: 535, b: 673}, {xd: [-40, 833], yd: [-1.3, 30.9], xt: w1Ticks, yt: [0, 10, 20, 30], xlab: true,
  marks: w1Marks(iter10, w1GValues)});
title([W1, "(BNN - GPi-G prior)"], 415, 484);
title(["Iteration"], 415, 720);
panel({l: 576, r: 791, t: 535, b: 673}, {xd: [-44, 840], yd: [-1.4, 55.4], xt: w1Ticks, yt: [0, 20, 40], xlab: true,
  marks: w1Marks(iterH, [...w1HEarly, ...w1HValues])});
title([W1, "(BNN - GPi-H prior)"], 683.5, 484);
title(["Iteration"], 683.5, 720);
panel({l: 845, r: 1058, t: 535, b: 673}, {xd: [-41, 840], yd: [-1.43, 22.36], xt: w1Ticks, yt: [0, 10, 20], xlab: true,
  marks: w1Marks(iter10, w1NFValues)});
title([W1, "(BNN - GPi-NF prior)"], 951.5, 484);
title(["Iteration"], 951.5, 720);

sep(753);

// Row 4: posteriors
panel({l: 45, r: 258, t: 844, b: 983}, {xd: XD, yd: [-4, 4], xt: xTicks, yt: yTicksPost, xlab: true,
  marks: postMarks(gpPostSamples, gpPostMid, gpPostMeanL, gpPostMeanR, gpPostBandLUp, gpPostBandLLo, gpPostBandRUp, gpPostBandRLo, BLUE, BLUE_BAND)});
title(["GP posterior"], 151.5, 820);
panel({l: 313, r: 527, t: 841, b: 979}, {xd: XD, yd: [-4, 4], xt: xTicks, yt: yTicksPost, xlab: false,
  marks: postMarks(fgPostSamples, fgPostMid, fgPostMeanL, fgPostMeanR, fgPostBandLUp, fgPostBandLLo, fgPostBandRUp, fgPostBandRLo, GREEN, GREEN_BAND)});
title(["BNN posterior", "(FG prior)"], 420, 790);
panel({l: 582, r: 796, t: 841, b: 979}, {xd: XD, yd: [-4, 4], xt: xTicks, yt: yTicksPost, xlab: false,
  marks: postMarks(fhPostSamples, fhPostMid, fhPostMeanL, fhPostMeanR, fhPostBandLUp, fhPostBandLLo, fhPostBandRUp, fhPostBandRLo, GREEN, GREEN_BAND)});
title(["BNN posterior", "(FH prior)"], 689, 790);
panel({l: 851, r: 1063, t: 841, b: 979}, {xd: XD, yd: [-4, 4], xt: xTicks, yt: yTicksPost, xlab: false,
  marks: postMarks(fnfPostSamples, fnfPostMid, fnfPostMeanL, fnfPostMeanR, fnfPostBandLUp, fnfPostBandLLo, fnfPostBandRUp, fnfPostBandRLo, GREEN, GREEN_BAND)});
title(["BNN posterior", "(Fixed NF prior)"], 957, 790);

// Row 5
panel({l: 313, r: 527, t: 1085, b: 1223}, {xd: XD, yd: [-4, 4], xt: xTicks, yt: yTicksPost, xlab: true,
  marks: postMarks(gpigPostSamples, gpigPostMid, gpigPostMeanL, gpigPostMeanR, gpigPostBandLUp, gpigPostBandLLo, gpigPostBandRUp, gpigPostBandRLo, ORANGE, ORANGE_BAND)});
title(["BNN posterior", "(GPi-G prior)"], 420, 1035);
panel({l: 582, r: 796, t: 1085, b: 1223}, {xd: XD, yd: [-4, 4], xt: xTicks, yt: yTicksPost, xlab: true,
  marks: postMarks(gpihPostSamples, gpihPostMid, gpihPostMeanL, gpihPostMeanR, gpihPostBandLUp, gpihPostBandLLo, gpihPostBandRUp, gpihPostBandRLo, ORANGE, ORANGE_BAND)});
title(["BNN posterior", "(GPi-H prior)"], 689, 1035);
panel({l: 851, r: 1063, t: 1085, b: 1223}, {xd: XD, yd: [-4, 4], xt: xTicks, yt: yTicksPost, xlab: true,
  marks: postMarks(gpinfPostSamples, gpinfPostMid, gpinfPostMeanL, gpinfPostMeanR, gpinfPostBandLUp, gpinfPostBandLLo, gpinfPostBandRUp, gpinfPostBandRLo, ORANGE, ORANGE_BAND)});
title(["BNN posterior", "(GPi-NF prior)"], 957, 1035);
</script></body></html>
